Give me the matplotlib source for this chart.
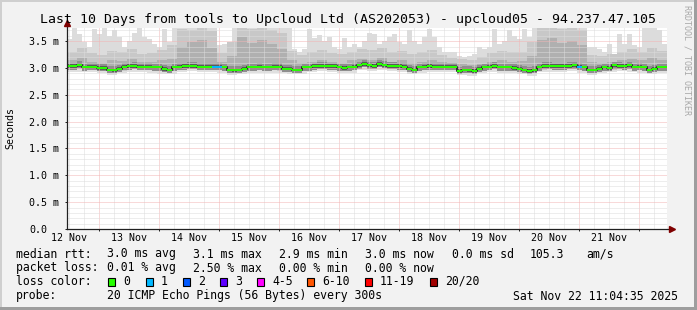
import datetime
import matplotlib
matplotlib.use("Agg")
import matplotlib.pyplot as plt
import matplotlib.dates as mdates
from matplotlib.patches import Rectangle
from matplotlib.ticker import MultipleLocator, NullFormatter, FuncFormatter
import numpy as np

plt.rcParams['font.family'] = ['DejaVu Sans Mono', 'DejaVu Sans']

W, H = 697, 310

end_time = datetime.datetime(2025, 11, 22, 11, 4, 35)
start_time = end_time - datetime.timedelta(days=10)

title = "Last 10 Days from tools to Upcloud Ltd (AS202053) - upcloud05 - 94.237.47.105"

# median rtt in ms, one value per 2 hours
median_rtt = [
    3.03, 3.03, 3.06, 3.01, 3.02, 3.02, 3.00, 3.00, 2.97, 2.96,
    2.99, 3.02, 3.03, 3.04, 3.02, 3.02, 3.02, 3.01, 3.01, 2.98,
    2.97, 3.01, 3.02, 3.03, 3.04, 3.04, 3.02, 3.02, 3.02, 3.02,
    3.02, 3.01, 2.97, 2.96, 2.97, 2.99, 3.01, 3.01, 3.02, 3.01,
    3.01, 3.02, 3.02, 2.99, 2.99, 2.97, 2.97, 3.01, 3.01, 3.03,
    3.04, 3.04, 3.03, 3.03, 3.01, 3.00, 3.01, 3.02, 3.05, 3.07,
    3.05, 3.04, 3.08, 3.06, 3.04, 3.04, 3.03, 3.02, 2.99, 2.97,
    3.01, 3.02, 3.03, 3.02, 3.02, 3.02, 3.02, 3.02, 2.95, 2.97,
    2.96, 2.94, 2.99, 3.01, 3.02, 3.04, 3.01, 3.01, 3.01, 3.00,
    2.99, 2.97, 2.94, 2.96, 3.01, 3.04, 3.04, 3.03, 3.03, 3.03,
    3.04, 3.05, 3.02, 3.01, 2.97, 2.97, 2.99, 3.01, 3.00, 3.05,
    3.04, 3.03, 3.05, 3.01, 3.02, 3.01, 2.97, 2.99, 3.01, 3.01,
]

# highest ping per 2 hours (values above the top are clipped)
smoke_max = [
    3.54, 3.77, 3.63, 3.48, 3.39, 3.73, 3.63, 3.76, 3.60, 3.70,
    3.57, 3.39, 3.51, 3.66, 3.76, 3.57, 3.54, 3.45, 3.39, 3.73,
    3.48, 3.80, 3.80, 3.80, 3.80, 3.80, 3.80, 3.80, 3.80, 3.80,
    3.43, 3.45, 3.40, 3.80, 3.80, 3.80, 3.80, 3.80, 3.80, 3.80,
    3.80, 3.80, 3.80, 3.80, 3.80, 3.35, 3.30, 3.35, 3.72, 3.55,
    3.62, 3.50, 3.58, 3.40, 3.35, 3.55, 3.40, 3.45, 3.40, 3.50,
    3.66, 3.63, 3.45, 3.51, 3.57, 3.63, 3.48, 3.45, 3.70, 3.51,
    3.45, 3.57, 3.73, 3.57, 3.39, 3.30, 3.30, 3.30, 3.23, 3.20,
    3.23, 3.26, 3.39, 3.36, 3.39, 3.73, 3.45, 3.51, 3.70, 3.60,
    3.54, 3.73, 3.57, 3.80, 3.80, 3.80, 3.80, 3.80, 3.80, 3.80,
    3.80, 3.80, 3.80, 3.80, 3.40, 3.39, 3.36, 3.30, 3.45, 3.26,
    3.63, 3.45, 3.63, 3.42, 3.40, 3.75, 3.76, 3.75, 3.70, 3.45,
]

# smoke percentiles, one value per 4 hours
smoke_p90 = [
    3.30, 3.38, 3.28, 3.25, 3.32, 3.30, 3.35, 3.26, 3.28, 3.34,
    3.42, 3.72, 3.70, 3.74, 3.68, 3.28, 3.48, 3.75, 3.72, 3.74,
    3.70, 3.66, 3.32, 3.25, 3.30, 3.34, 3.28, 3.26, 3.30, 3.35,
    3.34, 3.38, 3.30, 3.32, 3.26, 3.30, 3.34, 3.25, 3.18, 3.16,
    3.15, 3.20, 3.28, 3.32, 3.30, 3.30, 3.48, 3.74, 3.75, 3.72,
    3.75, 3.70, 3.25, 3.22, 3.26, 3.30, 3.36, 3.30, 3.38, 3.32,
]
smoke_p75 = [
    3.14, 3.18, 3.12, 3.10, 3.15, 3.13, 3.16, 3.12, 3.11, 3.14,
    3.16, 3.40, 3.48, 3.52, 3.38, 3.12, 3.22, 3.58, 3.46, 3.52,
    3.44, 3.36, 3.14, 3.10, 3.12, 3.15, 3.12, 3.10, 3.14, 3.16,
    3.15, 3.18, 3.12, 3.14, 3.10, 3.12, 3.15, 3.12, 3.08, 3.07,
    3.06, 3.08, 3.12, 3.15, 3.12, 3.13, 3.22, 3.52, 3.56, 3.46,
    3.50, 3.42, 3.12, 3.10, 3.12, 3.14, 3.16, 3.14, 3.18, 3.15,
]
smoke_p10 = [
    2.98, 2.98, 2.97, 2.95, 2.91, 2.95, 2.98, 2.97, 2.96, 2.94,
    2.94, 2.97, 2.99, 2.97, 2.97, 2.96, 2.91, 2.93, 2.96, 2.96,
    2.96, 2.95, 2.93, 2.94, 2.97, 2.99, 2.98, 2.95, 2.96, 3.01,
    2.99, 3.02, 2.99, 2.97, 2.93, 2.96, 2.97, 2.97, 2.97, 2.91,
    2.90, 2.95, 2.98, 2.96, 2.95, 2.93, 2.90, 2.97, 2.98, 2.98,
    2.99, 2.96, 2.92, 2.95, 2.97, 2.99, 2.98, 2.96, 2.93, 2.96,
]
smoke_min = [
    2.93, 2.93, 2.92, 2.90, 2.86, 2.90, 2.93, 2.92, 2.91, 2.89,
    2.89, 2.92, 2.94, 2.92, 2.92, 2.91, 2.86, 2.88, 2.91, 2.91,
    2.91, 2.90, 2.88, 2.89, 2.92, 2.94, 2.93, 2.90, 2.91, 2.96,
    2.94, 2.97, 2.94, 2.92, 2.88, 2.91, 2.92, 2.92, 2.92, 2.86,
    2.85, 2.90, 2.93, 2.91, 2.90, 2.88, 2.85, 2.92, 2.93, 2.93,
    2.94, 2.91, 2.87, 2.90, 2.92, 2.94, 2.93, 2.91, 2.88, 2.91,
]

# 2-hour steps that lost pings, and how many
loss_idx = [29, 30, 102]
loss_pings = [1, 1, 1]

loss_labels = ["0", "1", "2", "3", "4-5", "6-10", "11-19", "20/20"]
loss_colors = ["#26ff00", "#00b8ff", "#0059ff", "#5e00ff", "#ff00ff", "#ff5500", "#ff0000", "#a10000"]

rtt_stats = ["3.0 ms avg", "3.1 ms max", "2.9 ms min", "3.0 ms now", "0.0 ms sd", "105.3", "am/s"]
loss_stats = ["0.01 % avg", "2.50 % max", "0.00 % min", "0.00 % now"]
probe_text = "20 ICMP Echo Pings (56 Bytes) every 300s"
stamp = "Sat Nov 22 11:04:35 2025"


def edges(n, hours):
    return mdates.date2num([start_time + datetime.timedelta(hours=hours * i) for i in range(n + 1)])


def stepvals(v):
    v = np.asarray(v, dtype=float)
    return np.append(v, v[-1])


def fx(x):
    return x / W


def fy(y):
    return 1 - y / H


fig = plt.figure(figsize=(W / 100, H / 100), dpi=100)
fig.patch.set_facecolor("#f2f2f2")
ax = fig.add_axes([fx(67), 81 / H, 600 / W, 201 / H])
ax.set_facecolor("white")

t2 = edges(len(median_rtt), 2)
t4 = edges(len(smoke_p90), 4)
med = stepvals(median_rtt)

# smoke, lightest layer first
ax.fill_between(t4, stepvals(smoke_min), stepvals(smoke_p90), step="post", color="#e0e0e0", lw=0, zorder=1)
ax.fill_between(t2, med - 0.05, stepvals(smoke_max), step="post", color="#dcdcdc", lw=0, zorder=1)
ax.fill_between(t4, stepvals(smoke_p10), stepvals(smoke_p90), step="post", color="#c8c8c8", lw=0, zorder=1.1)
ax.fill_between(t4, stepvals(smoke_p10) + 0.02, stepvals(smoke_p75), step="post", color="#b0b0b0", lw=0, zorder=1.2)
ax.fill_between(t2, med - 0.06, med + 0.07, step="post", color="#8e8e8e", lw=0, zorder=1.3)
ax.fill_between(t2, med - 0.035, med + 0.035, step="post", color="#5a5a5a", lw=0, zorder=1.4)

# median line, coloured by loss
ax.step(t2, med, where="post", color="#303030", lw=1.44, zorder=3)
line_colors = [loss_colors[0]] * len(median_rtt)
for i, n in zip(loss_idx, loss_pings):
    line_colors[i] = loss_colors[n]
ax.hlines(median_rtt, t2[:-1], t2[1:], colors=line_colors, lw=1.44, zorder=4)

# axes and grid
ax.set_xlim(t2[0], t2[-1])
ax.set_ylim(0, 3.745)
ax.xaxis.set_major_locator(mdates.DayLocator())
ax.xaxis.set_minor_locator(mdates.HourLocator(byhour=[6, 12, 18]))
ax.xaxis.set_major_formatter(NullFormatter())
ax.xaxis.set_minor_formatter(FuncFormatter(
    lambda v, pos: mdates.num2date(v).strftime("%d Nov") if mdates.num2date(v).hour == 12 else ""))
ax.yaxis.set_major_locator(MultipleLocator(0.5))
ax.yaxis.set_minor_locator(MultipleLocator(0.1))
ax.yaxis.set_major_formatter(FuncFormatter(lambda v, pos: "0.0" if v == 0 else f"{v:.1f} m"))

ax.set_axisbelow(False)
ax.grid(which="minor", color="#dcdcdc", ls=(0, (1, 1)), lw=0.72)
ax.grid(which="major", color="#f2b4b4", ls=(0, (1, 1)), lw=0.72)

ax.tick_params(axis="x", which="major", length=1.5, width=0.72, color="#202020")
ax.tick_params(axis="x", which="minor", length=0, pad=3, labelsize=7.2)
ax.tick_params(axis="y", which="major", length=1.5, width=0.72, color="#202020",
               pad=25.9, labelsize=7.2)
ax.tick_params(axis="y", which="minor", length=0)
for lab in ax.get_yticklabels():
    lab.set_horizontalalignment("left")

for s in ax.spines.values():
    s.set_visible(False)
ax.plot([0, 1.008], [0, 0], transform=ax.transAxes, color="#202020", lw=0.9, clip_on=False, zorder=5)
ax.plot([0, 0], [0, 1.025], transform=ax.transAxes, color="#202020", lw=0.9, clip_on=False, zorder=5)
ax.plot([1.008], [0], marker=">", ms=4, color="#7f0000", transform=ax.transAxes, clip_on=False, zorder=6)
ax.plot([0], [1.025], marker="^", ms=4, color="#7f0000", transform=ax.transAxes, clip_on=False, zorder=6)

# texts
fig.text(fx(347.5), fy(19), title, size=9.5, ha="center", va="center")
fig.text(fx(10), fy(128), "Seconds", size=7.2, rotation=90, ha="center", va="center")
fig.text(fx(687.5), fy(60), "RRDTOOL / TOBI OETIKER", size=6, rotation=270,
         ha="center", va="center", color="#a8a8a8")

cols = [107, 193, 279, 365, 452, 530, 586]
rows = [254, 268, 281.5, 296]
fs = 8.3
fig.text(fx(16), fy(rows[0]), "median rtt:", size=fs, va="center")
for x, s in zip(cols, rtt_stats):
    fig.text(fx(x), fy(rows[0]), s, size=fs, va="center")
fig.text(fx(16), fy(rows[1]), "packet loss:", size=fs, va="center")
for x, s in zip(cols, loss_stats):
    fig.text(fx(x), fy(rows[1]), s, size=fs, va="center")
fig.text(fx(16), fy(rows[2]), "loss color:", size=fs, va="center")
box_x = [108, 146, 183, 220, 257, 307, 365, 430]
for x, lab, c in zip(box_x, loss_labels, loss_colors):
    fig.add_artist(Rectangle((fx(x), fy(285.5)), 7 / W, 8 / H, transform=fig.transFigure,
                             facecolor=c, edgecolor="black", lw=0.8))
    fig.text(fx(x + 15), fy(rows[2]), lab, size=fs, va="center")
fig.text(fx(16), fy(rows[3]), "probe:", size=fs, va="center")
fig.text(fx(107), fy(rows[3]), probe_text, size=fs, va="center")
fig.text(fx(513), fy(rows[3]), stamp, size=fs, va="center")

# 3d frame
fig.add_artist(Rectangle((0, fy(2)), 1, 2 / H, transform=fig.transFigure, color="#cfcfcf", lw=0))
fig.add_artist(Rectangle((0, 0), 2 / W, 1, transform=fig.transFigure, color="#cfcfcf", lw=0))
fig.add_artist(Rectangle((0, 0), 1, 3 / H, transform=fig.transFigure, color="#9e9e9e", lw=0))
fig.add_artist(Rectangle((fx(694), 0), 3 / W, 1, transform=fig.transFigure, color="#9e9e9e", lw=0))

fig.savefig("out.png", dpi=100, facecolor=fig.get_facecolor())
